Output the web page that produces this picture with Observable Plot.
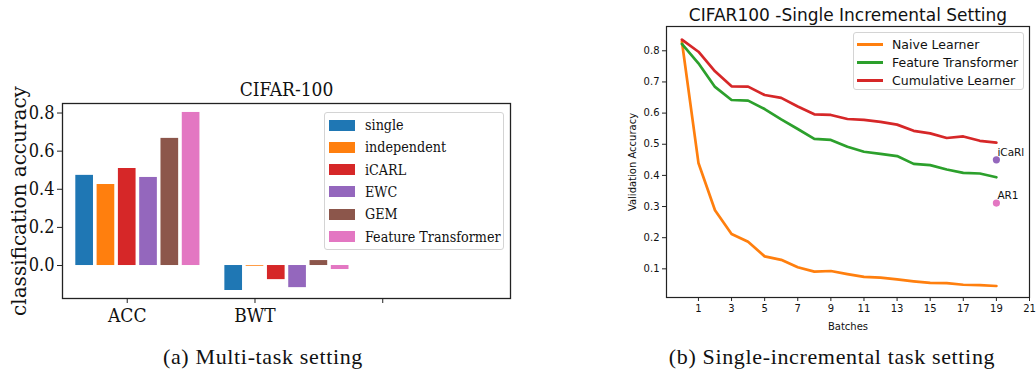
<!DOCTYPE html>
<html>
<head>
<meta charset="utf-8">
<script src="https://cdn.jsdelivr.net/npm/d3@7"></script>
<script src="https://cdn.jsdelivr.net/npm/@observablehq/plot@0.6"></script>
<style>
  html, body { margin: 0; padding: 0; background: #fff; }
  #page { position: relative; width: 1036px; height: 369px; overflow: hidden; background: #fff; }
  .panel { position: absolute; top: 0; }
  .legend { position: absolute; box-sizing: border-box; border: 1px solid #d4d4d4; border-radius: 3px; background: rgba(255,255,255,0.85); }
  .legend .row { position: absolute; left: 0; right: 0; display: flex; align-items: center; }
  .caption { position: absolute; width: 420px; text-align: center; font-family: "Liberation Serif", "Times New Roman", serif; font-size: 22px; line-height: 22px; letter-spacing: 0.65px; color: #111; }
</style>
</head>
<body>
<div id="page">
  <div id="left" class="panel" style="left:0px;"></div>
  <div id="right" class="panel" style="left:600px;"></div>
  <div id="legendA" class="legend" style="left:324px; top:112px; width:180px; height:138px;"></div>
  <div id="legendB" class="legend" style="left:853px; top:32px; width:171px; height:58px;"></div>
  <div class="caption" style="left:53px; top:346px;">(a) Multi-task setting</div>
  <div class="caption" style="left:622px; top:346px;">(b) Single-incremental task setting</div>
</div>
<script>
// ---------- Panel (a) data ----------
const metrics = ["ACC", "BWT"];
const methods = ["single", "independent", "iCARL", "EWC", "GEM", "Feature Transformer"];
const methodColors = ["#1f77b4", "#ff7f0e", "#d62728", "#9467bd", "#8c564b", "#e377c2"];
const accValues = [0.473, 0.425, 0.509, 0.462, 0.667, 0.803];
const bwtValues = [-0.131, -0.004, -0.074, -0.116, 0.026, -0.021];
const xTickLabels = ["ACC", "BWT", ""];
const yTicksA = [0, 0.2, 0.4, 0.6, 0.8];

// ---------- Panel (b) data ----------
const batches = [0,1,2,3,4,5,6,7,8,9,10,11,12,13,14,15,16,17,18,19];
const naiveLearner = [0.830, 0.440, 0.288, 0.212, 0.187, 0.140, 0.129, 0.105, 0.091, 0.093, 0.083, 0.074, 0.072, 0.066, 0.060, 0.055, 0.054, 0.049, 0.048, 0.045];
const featureTransformer = [0.822, 0.760, 0.684, 0.642, 0.640, 0.613, 0.580, 0.549, 0.517, 0.514, 0.492, 0.476, 0.469, 0.462, 0.437, 0.433, 0.419, 0.408, 0.406, 0.394];
const cumulativeLearner = [0.836, 0.797, 0.734, 0.686, 0.685, 0.658, 0.649, 0.621, 0.596, 0.594, 0.581, 0.578, 0.572, 0.563, 0.543, 0.535, 0.520, 0.525, 0.511, 0.505];
const seriesNames = ["Naive Learner", "Feature Transformer", "Cumulative Learner"];
const seriesColors = ["#ff7f0e", "#2ca02c", "#d62728"];
const pointNames = ["iCaRl", "AR1"];
const pointBatch = [19, 19];
const pointValues = [0.450, 0.311];
const pointColors = ["#9467bd", "#e377c2"];
const xTicksB = [1,3,5,7,9,11,13,15,17,19,21];
const yTicksB = [0.1,0.2,0.3,0.4,0.5,0.6,0.7,0.8];

// ---------- Panel (a) ----------
const groupStride = methods.length + 1;   // slots per group (one gap)
const barHalf = 0.415;
const barRows = [];
metrics.forEach((m, g) => {
  const vals = g === 0 ? accValues : bwtValues;
  methods.forEach((name, k) => {
    const pos = g * groupStride + k;
    barRows.push({metric: m, method: name, value: vals[k], x1: pos - barHalf, x2: pos + barHalf});
  });
});
const tickSlots = xTickLabels.map((_, i) => 2 + i * methods.length);

const serifC = "'DejaVu Serif Condensed', 'DejaVu Serif', serif";
const chartA = Plot.plot({
  width: 530, height: 345,
  marginLeft: 62, marginRight: 20, marginTop: 103, marginBottom: 47,
  style: {fontFamily: serifC, background: "transparent", color: "#111", overflow: "visible"},
  x: {type: "linear", domain: [-1.04, 20]},
  y: {domain: [-0.173, 0.85]},
  color: {domain: methods, range: methodColors},
  marks: [
    Plot.rectY(barRows, {x1: "x1", x2: "x2", y1: 0, y2: "value", fill: "method"}),
    Plot.frame({stroke: "#222", strokeWidth: 1.3}),
    Plot.axisX({ticks: tickSlots, tickFormat: (d) => xTickLabels[tickSlots.indexOf(d)], tickSize: 5, tickPadding: 5, fontSize: 19, label: null, stroke: "#222"}),
    Plot.axisY({ticks: yTicksA, tickFormat: ".1f", tickSize: 5, tickPadding: 3, fontSize: 18, label: null, stroke: "#222"}),
    Plot.text(["classification accuracy"], {text: (d) => d, frameAnchor: "left", rotate: -90, dx: -43, fontSize: 20, fontFamily: "'DejaVu Serif', serif", textAnchor: "middle", lineAnchor: "middle", fill: "#111"}),
    Plot.text(["CIFAR-100"], {text: (d) => d, frameAnchor: "top", dy: -14, fontSize: 19, lineAnchor: "middle", fill: "#111"})
  ]
});
document.getElementById("left").appendChild(chartA);

// legend (a)
const legA = document.getElementById("legendA");
methods.forEach((name, i) => {
  const row = document.createElement("div");
  row.className = "row";
  row.style.top = (1 + i * 22.33) + "px";
  row.style.height = "22px";
  row.innerHTML = `<span style="display:inline-block;margin-left:4px;width:26px;height:11px;background:${methodColors[i]}"></span>` +
    `<span style="margin-left:10px;font-family:${serifC};font-size:14.2px;color:#111;white-space:nowrap">${name}</span>`;
  legA.appendChild(row);
});

// ---------- Panel (b) ----------
const lineRows = [];
[naiveLearner, featureTransformer, cumulativeLearner].forEach((vals, s) => {
  batches.forEach((b, i) => lineRows.push({series: seriesNames[s], batch: b, acc: vals[i]}));
});
const pointRows = pointNames.map((n, i) => ({name: n, batch: pointBatch[i], acc: pointValues[i]}));

const sans = "'DejaVu Sans', sans-serif";
const chartB = Plot.plot({
  width: 436, height: 340,
  marginLeft: 66, marginRight: 7, marginTop: 26, marginBottom: 43,
  style: {fontFamily: sans, background: "transparent", color: "#111", overflow: "visible"},
  x: {type: "linear", domain: [-0.93, 21]},
  y: {domain: [0.008, 0.878]},
  color: {domain: [...seriesNames, ...pointNames], range: [...seriesColors, ...pointColors]},
  marks: [
    Plot.line(lineRows, {x: "batch", y: "acc", stroke: "series", z: "series", strokeWidth: 2.7, strokeLinejoin: "round"}),
    Plot.dot(pointRows, {x: "batch", y: "acc", fill: "name", r: 3.6}),
    Plot.text(pointRows, {x: "batch", y: "acc", text: "name", dx: 1, dy: -4, textAnchor: "start", lineAnchor: "bottom", fontSize: 10.5, fill: "#111"}),
    Plot.frame({stroke: "#222", strokeWidth: 1.2}),
    Plot.axisX({ticks: xTicksB, tickSize: 4, tickPadding: 3, fontSize: 10, label: "Batches", labelAnchor: "center", labelOffset: 32, labelArrow: "none", stroke: "#222"}),
    Plot.axisY({ticks: yTicksB, tickFormat: ".1f", tickSize: 4, tickPadding: 3, fontSize: 10, label: "Validation Accuracy", labelAnchor: "center", labelOffset: 38, labelArrow: "none", stroke: "#222"}),
    Plot.text(["CIFAR100 -Single Incremental Setting"], {text: (d) => d, frameAnchor: "top", dy: -11, fontSize: 17, lineAnchor: "middle", fill: "#111"})
  ]
});
document.getElementById("right").appendChild(chartB);

// legend (b)
const legB = document.getElementById("legendB");
seriesNames.forEach((name, i) => {
  const row = document.createElement("div");
  row.className = "row";
  row.style.top = (2 + i * 18) + "px";
  row.style.height = "18px";
  row.innerHTML = `<span style="display:inline-block;margin-left:3px;width:26px;height:3px;background:${seriesColors[i]}"></span>` +
    `<span style="margin-left:9px;font-family:${sans};font-size:12.5px;color:#111;white-space:nowrap">${name}</span>`;
  legB.appendChild(row);
});
</script>
</body>
</html>
